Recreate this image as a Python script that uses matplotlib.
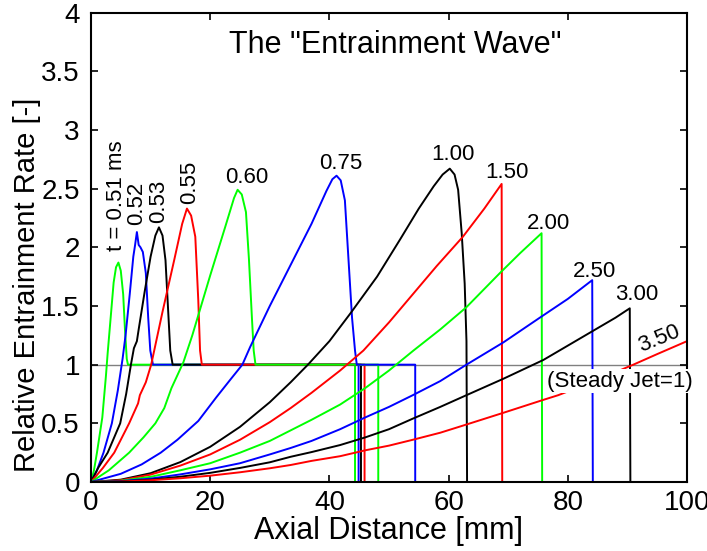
import matplotlib.pyplot as plt

plt.rcParams['font.family'] = ['Liberation Sans', 'DejaVu Sans']

# curves: axial distance [mm] and relative entrainment rate [-]
x_051 = [0, 0.5, 1.0, 1.9, 2.5, 2.8, 3.3, 3.8, 4.2, 4.6, 5.0, 5.4, 5.7, 6.0, 6.2, 44.3, 44.3, 100]
y_051 = [0, 0.1, 0.25, 0.55, 0.9, 1.1, 1.4, 1.7, 1.83, 1.87, 1.8, 1.6, 1.3, 1.05, 1.0, 1.0, 0, 0]

x_052 = [0, 1, 2.1, 3.5, 4.5, 5.3, 5.8, 6.5, 7.1, 7.4, 7.7, 8.0, 8.3, 8.7, 9.2, 9.6, 9.95, 10.4, 44.9, 44.9, 100]
y_052 = [0, 0.1, 0.25, 0.5, 0.78, 1.05, 1.25, 1.6, 1.92, 2.02, 2.13, 2.02, 2.0, 1.96, 1.78, 1.4, 1.12, 1.0, 1.0, 0, 0]

x_053 = [0, 1.2, 2.8, 4.9, 5.9, 6.7, 7.2, 7.7, 8.0, 9.0, 10.0, 10.8, 11.4, 12.0, 12.5, 13.0, 13.3, 13.7, 45.3, 45.3, 100]
y_053 = [0, 0.12, 0.25, 0.5, 0.75, 1.0, 1.14, 1.2, 1.3, 1.62, 1.92, 2.1, 2.17, 2.1, 1.89, 1.41, 1.12, 1.0, 1.0, 0, 0]

x_055 = [0, 2, 3.9, 6.4, 7.9, 8.2, 9.2, 10.1, 12, 14, 15.3, 16.1, 16.8, 17.5, 18, 18.3, 18.6, 45.9, 45.9, 100]
y_055 = [0, 0.12, 0.25, 0.5, 0.67, 0.74, 0.85, 1.0, 1.45, 1.9, 2.2, 2.33, 2.27, 2.09, 1.55, 1.12, 1.0, 1.0, 0, 0]

x_060 = [0, 3, 6.4, 8.8, 10.8, 12.3, 13.5, 15.5, 17, 20, 22.5, 24, 24.6, 25.3, 26, 26.5, 27, 27.3, 27.6, 48.2, 48.2, 100]
y_060 = [0, 0.1, 0.25, 0.38, 0.5, 0.63, 0.8, 1.02, 1.25, 1.76, 2.17, 2.42, 2.49, 2.45, 2.3, 1.9, 1.4, 1.12, 1.0, 1.0, 0, 0]

x_075 = [0, 5, 8.5, 11.7, 14.5, 18, 21, 23.5, 25.4, 26.7, 30, 33.9, 37, 39.5, 40.5, 41.2, 41.9, 42.6, 43.2, 43.8, 44.3, 44.6, 54.4, 54.4, 100]
y_075 = [0, 0.07, 0.15, 0.25, 0.36, 0.52, 0.72, 0.88, 1.0, 1.15, 1.5, 1.89, 2.2, 2.48, 2.58, 2.61, 2.57, 2.4, 1.9, 1.4, 1.12, 1.0, 1.0, 0, 0]

x_100 = [0, 5, 10, 15, 20, 25, 30, 33.5, 36.4, 40, 43.5, 48, 51.9, 55, 57.5, 59, 60.2, 61, 61.6, 62.2, 62.7, 63, 63.1, 100]
y_100 = [0, 0.02, 0.075, 0.17, 0.3, 0.47, 0.68, 0.85, 1.0, 1.2, 1.435, 1.75, 2.07, 2.33, 2.52, 2.62, 2.67, 2.62, 2.49, 2.12, 1.69, 1.2, 0, 0]

x_150 = [0, 5, 10, 15, 20, 25, 30, 33.5, 37, 41.8, 45.7, 50, 54, 58, 62.4, 66, 68.9, 69, 100]
y_150 = [0, 0.015, 0.063, 0.14, 0.235, 0.36, 0.51, 0.63, 0.76, 0.95, 1.12, 1.36, 1.6, 1.84, 2.09, 2.33, 2.54, 0, 0]

x_200 = [0, 5, 10, 15, 20, 25, 30, 33.5, 37, 41.8, 46, 50, 54.1, 58.6, 63, 68.6, 72, 75.6, 75.7, 100]
y_200 = [0, 0.011, 0.044, 0.1, 0.16, 0.25, 0.35, 0.44, 0.53, 0.66, 0.8, 0.95, 1.12, 1.3, 1.49, 1.78, 1.95, 2.12, 0, 0]

x_250 = [0, 5, 10, 15, 20, 25, 30, 33.5, 37, 41.8, 46, 50, 54, 58.6, 63, 69.2, 75.3, 80, 84.1, 84.2, 100]
y_250 = [0, 0.008, 0.029, 0.065, 0.108, 0.16, 0.235, 0.29, 0.35, 0.45, 0.55, 0.64, 0.74, 0.86, 1.0, 1.19, 1.4, 1.56, 1.72, 0, 0]

x_300 = [0, 5, 10, 15, 20, 25, 30, 33.5, 37, 41.8, 46, 50, 54, 58.6, 63, 69.2, 75.9, 84.3, 88, 90.4, 90.5, 100]
y_300 = [0, 0.005, 0.02, 0.045, 0.078, 0.12, 0.168, 0.215, 0.255, 0.315, 0.38, 0.45, 0.54, 0.64, 0.74, 0.88, 1.04, 1.29, 1.4, 1.48, 0, 0]

x_350 = [0, 5, 10, 15, 20, 25, 30, 33.5, 37, 41.8, 46, 50, 54, 58.6, 63, 69.2, 75.9, 78.4, 84, 91, 95, 100]
y_350 = [0, 0.004, 0.015, 0.032, 0.054, 0.083, 0.117, 0.145, 0.18, 0.22, 0.27, 0.31, 0.36, 0.42, 0.49, 0.59, 0.70, 0.74, 0.85, 1.0, 1.09, 1.2]

fig = plt.figure(figsize=(7.07, 5.51), dpi=100)
ax = fig.add_axes([0.1287, 0.1252, 0.843, 0.852])

ax.axhline(1, color='#808080', lw=1.0, zorder=1)

curves = [(x_051, y_051, '#00ff00'), (x_052, y_052, '#0000ff'), (x_053, y_053, 'k'),
          (x_055, y_055, '#ff0000'), (x_060, y_060, '#00ff00'), (x_075, y_075, '#0000ff'),
          (x_100, y_100, 'k'), (x_150, y_150, '#ff0000'), (x_200, y_200, '#00ff00'),
          (x_250, y_250, '#0000ff'), (x_300, y_300, 'k'), (x_350, y_350, '#ff0000')]
for xs, ys, c in curves:
    ax.plot(xs, ys, color=c, lw=1.4)

fs = 16
ax.text(4.3, 1.97, 't = 0.51 ms', rotation=90, ha='center', va='bottom', fontsize=fs)
ax.text(7.7, 2.19, '0.52', rotation=90, ha='center', va='bottom', fontsize=fs)
ax.text(11.4, 2.21, '0.53', rotation=90, ha='center', va='bottom', fontsize=fs)
ax.text(16.6, 2.37, '0.55', rotation=90, ha='center', va='bottom', fontsize=fs)
ax.text(26.2, 2.55, '0.60', ha='center', va='baseline', fontsize=fs)
ax.text(41.9, 2.67, '0.75', ha='center', va='baseline', fontsize=fs)
ax.text(60.7, 2.74, '1.00', ha='center', va='baseline', fontsize=fs)
ax.text(69.8, 2.59, '1.50', ha='center', va='baseline', fontsize=fs)
ax.text(76.7, 2.16, '2.00', ha='center', va='baseline', fontsize=fs)
ax.text(84.4, 1.745, '2.50', ha='center', va='baseline', fontsize=fs)
ax.text(91.5, 1.55, '3.00', ha='center', va='baseline', fontsize=fs)
ax.text(95.3, 1.22, '3.50', rotation=22, ha='center', va='center', fontsize=fs)
ax.text(88.8, 0.86, '(Steady Jet=1)', ha='center', va='center', fontsize=fs, clip_on=False,
        bbox=dict(facecolor='white', edgecolor='none', pad=1))

ax.text(51, 3.72, 'The "Entrainment Wave"', ha='center', va='center', fontsize=22)

ax.set_xlim(0, 100)
ax.set_ylim(0, 4)
ax.set_xticks([0, 20, 40, 60, 80, 100])
ax.set_xticklabels(['0', '20', '40', '60', '80', '100'])
ax.set_yticks([0, 0.5, 1, 1.5, 2, 2.5, 3, 3.5, 4])
ax.set_yticklabels(['0', '0.5', '1', '1.5', '2', '2.5', '3', '3.5', '4'])
ax.tick_params(direction='in', top=True, right=True, length=5, width=1.2, labelsize=20)
ax.tick_params(axis='x', pad=6)
ax.tick_params(axis='y', pad=8)
for s in ax.spines.values():
    s.set_linewidth(1.5)
ax.set_xlabel('Axial Distance [mm]', fontsize=22, labelpad=0)
ax.set_ylabel('Relative Entrainment Rate [-]', fontsize=21)
ax.yaxis.set_label_coords(-0.084, 0.42)

fig.savefig('out.png', dpi=100)
